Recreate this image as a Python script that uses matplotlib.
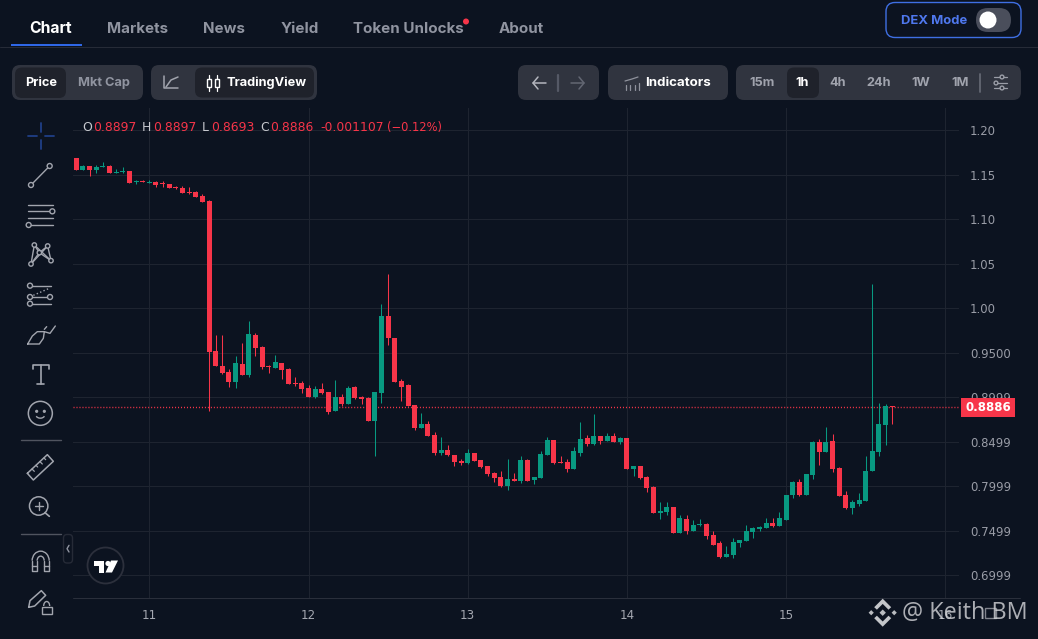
import matplotlib
matplotlib.use("Agg")
import matplotlib.pyplot as plt
from matplotlib.patches import FancyBboxPatch, Circle, Polygon, Rectangle, Arc

# ---------- data (hourly candles) ----------
first_hour_offset = -11   # first candle is 11 hours before day 11 00:00
opens = [1.1691,1.1556,1.1601,1.1556,1.1590,1.1601,1.1522,1.1533,1.1545,1.1421,1.1432,1.1413,1.1421,1.1410,1.1398,1.1365,1.1353,1.1308,1.1308,1.1263,1.1207,
         .9520,.9351,.9283,.9171,.9373,.9250,.9700,.9565,.9347,.9328,.9385,.9317,.9160,.9160,.9103,
         .9002,.9092,.9058,.8844,.9002,.8923,.9114,.9002,.8990,.8732,.9047,.9913,.9665,.9182,.9137,.8912,.8653,.8698,.8574,.8372,.8405,.8349,.8282,.8259,.8372,.8293,.8225,.8147,.8102,.8000,.8079,.8057,.8293,.8068,.8090,
         .8349,.8518,.8270,.8270,.8192,.8372,.8540,.8473,.8563,.8507,.8563,.8495,.8540,.8192,.8225,.8102,.7989,.7697,.7708,.7764,.7472,.7629,.7494,.7562,.7573,.7449,.7359,.7202,.7224,.7359,.7382,.7483,.7517,.7528,
         .7585,.7551,.7618,.7900,.8046,.7900,.8125,.8496,.8383,.8507,.8203,.7900,.7753,.7798,.7832,.8170,.8383,.8687,.8897]
highs = [1.1691,1.1612,1.1601,1.1612,1.1646,1.1612,1.1567,1.1590,1.1545,1.1443,1.1443,1.1443,1.1432,1.1432,1.1398,1.1376,1.1376,1.1365,1.1320,1.1286,1.1215,
         .9700,.9700,.9317,.9463,.9610,.9857,.9722,.9576,.9362,.9475,.9385,.9328,.9227,.9182,.9137,
         .9125,.9159,.9058,.9193,.9035,.9125,.9125,.9013,.9002,.9058,1.0048,1.0385,.9665,.9204,.9148,.8912,.8822,.8732,.8608,.8552,.8462,.8349,.8304,.8417,.8372,.8293,.8225,.8158,.8169,.8304,.8147,.8338,.8304,.8102,.8394,
         .8552,.8518,.8338,.8304,.8439,.8720,.8574,.8810,.8563,.8597,.8597,.8552,.8540,.8225,.8225,.8113,.8000,.7820,.7820,.7764,.7674,.7674,.7618,.7629,.7584,.7494,.7382,.7325,.7415,.7393,.7562,.7539,.7550,.7640,
         .7641,.7708,.7900,.8057,.8080,.8136,.8507,.8530,.8665,.8586,.8215,.7945,.7843,.7922,.8338,1.0273,.8935,.8923,.8897]
lows = [1.1556,1.1556,1.1488,1.1522,1.1590,1.1522,1.1522,1.1522,1.1410,1.1398,1.1421,1.1413,1.1365,1.1365,1.1353,1.1342,1.1297,1.1286,1.1252,1.1196,.8845,
        .9351,.9261,.9115,.9103,.9250,.9227,.9463,.9317,.9272,.9328,.9205,.9148,.9126,.9047,.9002,
        .8990,.9035,.8810,.8844,.8900,.8923,.8979,.8923,.8732,.8338,.8934,.9587,.9170,.8957,.8900,.8630,.8653,.8563,.8349,.8349,.8338,.8225,.8237,.8248,.8282,.8203,.8113,.8045,.7989,.7955,.8057,.8034,.8057,.8023,.8090,
        .8349,.8248,.8259,.8158,.8192,.8338,.8450,.8462,.8473,.8507,.8495,.8473,.8192,.8113,.8079,.7933,.7697,.7629,.7674,.7472,.7472,.7460,.7494,.7550,.7404,.7337,.7190,.7202,.7190,.7314,.7382,.7415,.7494,.7528,
        .7540,.7551,.7618,.7866,.7888,.7900,.8080,.8237,.8383,.8158,.7888,.7742,.7686,.7776,.7832,.8170,.8338,.8462,.8693]
closes = [1.1556,1.1601,1.1556,1.1590,1.1601,1.1522,1.1533,1.1545,1.1410,1.1432,1.1421,1.1425,1.1387,1.1402,1.1353,1.1353,1.1297,1.1297,1.1252,1.1196,.9508,
          .9351,.9272,.9171,.9385,.9250,.9711,.9553,.9340,.9336,.9396,.9306,.9148,.9148,.9092,.9002,
          .9092,.9047,.8833,.9002,.8923,.9103,.8990,.8979,.8732,.9058,.9913,.9665,.9170,.9114,.8900,.8653,.8698,.8563,.8372,.8405,.8349,.8270,.8259,.8372,.8282,.8214,.8135,.8090,.8000,.8079,.8057,.8293,.8057,.8102,.8360,
          .8518,.8259,.8259,.8192,.8394,.8529,.8473,.8563,.8507,.8563,.8495,.8540,.8192,.8225,.8090,.7978,.7697,.7719,.7764,.7472,.7640,.7494,.7562,.7573,.7438,.7337,.7202,.7235,.7370,.7393,.7494,.7528,.7539,.7584,
          .7551,.7641,.7900,.8046,.7900,.8136,.8496,.8383,.8496,.8192,.7888,.7753,.7821,.7843,.8170,.8395,.8698,.8901,.8886]
last_price = 0.8886
price_ticks = [1.20, 1.15, 1.10, 1.05, 1.00, 0.95, 0.8999, 0.8499, 0.7999, 0.7499, 0.6999]
price_labels = ["1.20", "1.15", "1.10", "1.05", "1.00", "0.9500", "0.8999", "0.8499", "0.7999", "0.7499", "0.6999"]
day_ticks = [11, 12, 13, 14, 15, 16]

# ---------- style ----------
BG = "#0c1320"; GRID = "#1e2430"; RED = "#f73549"; GREEN = "#089981"
LABEL = "#9094a0"; ICON = "#a2a5ae"; PILL = "#30343f"; ACTIVE = "#1f222b"
W, H = 1038, 639
MONO = "DejaVu Sans"; UI = "Inter"

fig = plt.figure(figsize=(W / 100, H / 100), dpi=100, facecolor=BG)

# chart pane (pixel box 73..959 x 108..598)
ax = fig.add_axes([73 / W, 1 - 598 / H, (959 - 73) / W, (598 - 108) / H], facecolor=BG)
ax.set_xlim(10.5207, 16.086)
ax.set_ylim(0.6741, 1.2253)
for s in ax.spines.values():
    s.set_visible(False)
ax.yaxis.tick_right()
ax.set_yticks(price_ticks, price_labels)
ax.set_xticks(day_ticks, [str(d) for d in day_ticks])
ax.tick_params(axis="y", length=0, pad=8, labelcolor="#9a9da7", labelsize=8.4)
ax.tick_params(axis="x", length=0, pad=7.6, labelcolor="#a4a7b0", labelsize=8.6)
for t in ax.get_yticklabels() + ax.get_xticklabels():
    t.set_fontfamily(MONO)
ax.grid(True, color=GRID, lw=0.72)
ax.set_axisbelow(True)

times = [11 + (i + first_hour_offset) / 24 for i in range(len(opens))]
colors = [GREEN if c >= o else RED for o, c in zip(opens, closes)]
wicks = ax.vlines(times, lows, highs, colors=colors, lw=0.75, zorder=3)
wicks.set_snap(True)
ax.bar(times, [abs(c - o) for o, c in zip(opens, closes)], bottom=[min(o, c) for o, c in zip(opens, closes)],
       width=5 / 159.2, color=colors, lw=0, zorder=4)
ax.axhline(last_price, color=RED, lw=1.0, ls=(0, (0.75, 1.4)), zorder=2)

# overlay in pixel coordinates
ui = fig.add_axes([0, 0, 1, 1], facecolor="none", zorder=5)
ui.set_xlim(0, W); ui.set_ylim(H, 0); ui.axis("off")

def rbox(x0, y0, x1, y1, r=8, fc=PILL, ec="none", lw=1, z=1):
    ui.add_patch(FancyBboxPatch((x0 + r, y0 + r), x1 - x0 - 2 * r, y1 - y0 - 2 * r,
                                boxstyle=f"round,pad={r},rounding_size={r}", fc=fc, ec=ec, lw=lw, zorder=z))

def txt(x, y, s, color="#ffffff", size=10, weight="normal", ha="center", family=UI, z=4, alpha=None):
    return ui.text(x, y, s, color=color, fontsize=size, fontweight=weight, ha=ha, va="center",
                   family=family, zorder=z, alpha=alpha)

def line(xs, ys, color=ICON, lw=1.0, z=3, **kw):
    ui.plot(xs, ys, color=color, lw=lw, zorder=z, solid_capstyle="round", **kw)

def dot(x, y, r=2.6, ec=ICON, fc=BG, lw=1.0, z=3):
    ui.add_patch(Circle((x, y), r, fc=fc, ec=ec, lw=lw, zorder=z))

# top nav
line([0, W], [46.5, 46.5], color="#262b37", lw=0.72)
ui.add_patch(Rectangle((11, 44), 71, 2.2, fc="#2f67e6", ec="none", zorder=3))
nav = [("Chart", 51, "#ffffff", 11.3), ("Markets", 137.5, LABEL, 10.9), ("News", 224, LABEL, 10.9), ("Yield", 299.5, LABEL, 10.9),
       ("Token Unlocks", 408, LABEL, 10.9), ("About", 521.5, LABEL, 10.9)]
for s, x, c, sz in nav:
    txt(x, 28.6, s, color=c, size=sz, weight="bold")
dot(466, 21.5, r=3, ec="none", fc=RED)
rbox(886, 2.5, 1021, 37.5, r=9, fc=BG, ec="#3f6fe3", lw=1.0)
txt(934, 20.8, "DEX Mode", color="#4f78ee", size=9.4, weight="bold")
rbox(976, 8, 1011, 32, r=12, fc="#4a4e5b")
dot(988, 20, r=8.5, ec="none", fc="#ffffff")

# controls row
rbox(12, 65, 143, 100); rbox(15, 67.5, 66, 98, r=7, fc=ACTIVE, z=2)
txt(41, 83, "Price", size=9.2, weight="bold")
txt(104, 83, "Mkt Cap", color=LABEL, size=9.2, weight="bold")
rbox(151, 65, 317, 100); rbox(195, 67.5, 314, 97.5, r=7, fc=ACTIVE, z=2)
line([164, 164, 178], [76, 88, 88], lw=1.1)
line([166, 171, 178], [87, 80, 77], lw=1.1)
for x, y0, y1 in [(209, 75, 91), (217, 75, 91)]:
    line([x, x], [y0, y1], color="#ffffff", lw=0.9)
    ui.add_patch(Rectangle((x - 2, 79), 4, 8, fc=ACTIVE, ec="#ffffff", lw=1, zorder=4))
txt(266.5, 83, "TradingView", size=9.2, weight="bold")
rbox(518, 65, 599, 100)
line([533, 546], [83, 83], color="#b4b6be", lw=1.1); line([538, 533, 538], [77, 83, 89], color="#b4b6be", lw=1.1)
line([558, 558], [75, 91], color="#555966", lw=1.6)
line([571, 584], [83, 83], color="#636773", lw=1.1); line([579, 584, 579], [77, 83, 89], color="#636773", lw=1.1)
rbox(608, 65, 728, 100)
for x, t in [(625.5, 85), (630, 85), (634.5, 85), (639, 83)]:
    line([x, x], [90, t], color="#8f929c", lw=0.9)
line([625, 632, 638], [81, 79, 77], color="#8f929c", lw=0.9)
txt(677.5, 83, "Indicators", size=9.6, weight="bold")
rbox(736, 65, 1021, 100); rbox(787, 67.5, 819, 98, r=7, fc=ACTIVE, z=2)
for s, x, c in [("15m", 762, "#a0a3ad"), ("1h", 802.5, "#ffffff"), ("4h", 838, "#a0a3ad"), ("24h", 879, "#a0a3ad"),
                ("1W", 921, "#a0a3ad"), ("1M", 960, "#a0a3ad")]:
    txt(x, 83, s, color=c, size=9.2, weight="bold")
line([980, 980], [74, 92], color="#636773", lw=1.3)
for y, cx in [(77, 1002), (83, 996), (88, 1002)]:
    line([994, 1007], [y, y], color="#9a9da7", lw=0.9)
    dot(cx, y, r=1.9, ec="#9a9da7", fc=PILL)

# ohlc legend
leg = [(82, "O", "#c7c9cf", 8.9), (93, "0.8897", RED, 8.9), (142, "H", "#c7c9cf", 8.9), (153, "0.8897", RED, 8.9),
       (202, "L", "#c7c9cf", 8.9), (211, "0.8693", RED, 8.9), (260, "C", "#c7c9cf", 8.9), (270, "0.8886", RED, 8.9),
       (320, "-0.001107", RED, 8.9), (387.5, "(\u22120.12%)", RED, 8.3)]
for x, s, c, sz in leg:
    txt(x, 127.5, s, color=c, size=sz, ha="left", family=MONO)

# price tag
ui.add_patch(Rectangle((961, 398), 54, 18.5, fc=RED, ec="none", zorder=3))
txt(988, 407.5, "0.8886", size=8.5, weight="bold", family=MONO)

# bottom axis line
line([73, 1020], [598, 598], color="#2a2f3b", lw=0.72)

# toolbar: Z maps zoomed coordinates to pixels
def Z(zx, zy):
    return zx / 3, 120 + zy / 3
def zline(pts, color=ICON, lw=1.0, **kw):
    xs, ys = zip(*[Z(*p) for p in pts])
    line(xs, ys, color=color, lw=lw, **kw)
def zdot(zx, zy, r=2.5, **kw):
    x, y = Z(zx, zy); dot(x, y, r=r, **kw)

CR = "#1f3f86"
zline([(84, 47), (110, 47)], CR, 1.3); zline([(135, 47), (161, 47)], CR, 1.3)
zline([(123, 10), (123, 35)], CR, 1.3); zline([(123, 60), (123, 86)], CR, 1.3)
zline([(93, 195), (149, 138)]); zdot(93, 195); zdot(149, 138)
for y in (255, 295):
    zline([(85, y), (158, y)])
zline([(85, 274), (152, 274)]); zdot(157, 274)
zline([(90, 315), (158, 315)]); zdot(86, 315)
pts = [(93, 432), (103, 375), (118, 398), (143, 378), (153, 422), (118, 398), (93, 432)]
zline(pts); zline([(103, 375), (153, 422)]); zline([(143, 378), (93, 432)])
for p in [(93, 432), (103, 375), (118, 398), (143, 378), (153, 422)]:
    zdot(*p, r=2.2)
zline([(96, 497), (154, 497)]); zdot(90, 497)
zline([(96, 531), (144, 531)]); zdot(90, 531); zdot(150, 531)
zline([(96, 551), (154, 551)]); zdot(90, 551)
ui.plot(*zip(Z(100, 526), Z(150, 504)), color=ICON, lw=1, ls=":", zorder=3)
zline([(83, 672), (118, 672), (130, 655), (133, 635), (112, 635), (97, 648), (83, 672)])
zline([(133, 635), (150, 640), (166, 618)])
zline([(133, 628), (140, 620)])
zline([(122, 735), (122, 793)], lw=1.2); zline([(98, 748), (98, 735), (148, 735), (148, 748)], lw=1.2); zline([(112, 793), (132, 793)], lw=1.2)
zdot(121, 880, r=12, lw=1.1)
zdot(110, 874, r=0.9, fc=ICON); zdot(133, 874, r=0.9, fc=ICON)
x, y = Z(121, 884); ui.add_patch(Arc((x, y), 9, 7, theta1=20, theta2=160, ec=ICON, lw=1, zorder=3))
zline([(63, 961), (183, 961)], "#50545f", 1)
zline([(82, 1060), (142, 1004), (160, 1024), (100, 1080), (82, 1060)], lw=1.1)
for a, b, c, d in [(96, 1047, 103, 1054), (108, 1036, 113, 1041), (120, 1025, 127, 1032), (132, 1014, 137, 1019)]:
    zline([(a, b), (c, d)], lw=0.9)
zdot(116, 1158, r=9.2, lw=1.1)
zline([(116, 1146), (116, 1170)]); zline([(104, 1158), (128, 1158)]); zline([(135, 1178), (148, 1189)], lw=1.2)
zline([(63, 1243), (183, 1243)], "#50545f", 1)
rbox(63.5, 534.5, 72.5, 563, r=3.5, fc=BG, ec="#262b37", lw=1)
zline([(207, 1276), (201, 1286), (207, 1296)], "#9094a0", 1)
x, y = Z(122, 1322); ui.add_patch(Arc((x, y), 17, 19, theta1=180, theta2=360, ec=ICON, lw=1, zorder=3))
x, y = Z(122, 1322); ui.add_patch(Arc((x, y), 7, 9, theta1=180, theta2=360, ec=ICON, lw=1, zorder=3))
zline([(95, 1322), (95, 1353), (112, 1353), (112, 1322)]); zline([(131, 1322), (131, 1353), (148, 1353), (148, 1322)])
zline([(95, 1338), (112, 1338)]); zline([(131, 1338), (148, 1338)])
zline([(86, 1462), (90, 1442), (124, 1412), (137, 1426), (104, 1458), (86, 1462)], lw=1.1)
ui.add_patch(Rectangle(Z(125, 1460), 10, 7.5, fc=BG, ec=ICON, lw=1, zorder=3))
x, y = Z(140, 1458); ui.add_patch(Arc((x, y), 6, 9, theta1=180, theta2=360, ec=ICON, lw=1, zorder=3))

# TradingView badge
dot(105.5, 565.5, r=18, ec="#2c303c", fc=BG, lw=1.3)
ui.add_patch(Polygon([(94, 560.5), (104, 560.5), (104, 572.5), (99, 572.5), (99, 566), (94, 566)], fc="white", ec="none", zorder=4))
dot(108, 563.5, r=2.6, ec="none", fc="white", z=4)
ui.add_patch(Polygon([(111, 560.5), (118, 560.5), (112, 572.5), (105.5, 572.5)], fc="white", ec="none", zorder=4))

# watermark
c = "#c4c6ca"
cx, cy = 882.7, 612.7
def diamond(px, py, r):
    ui.add_patch(Polygon([(px - r, py), (px, py - r), (px + r, py), (px, py + r)], fc=c, ec="none", zorder=6, alpha=0.95))
diamond(cx, cy, 3.2); diamond(cx - 11.5, cy, 2.6); diamond(cx + 11.5, cy, 2.6)
ui.add_patch(Polygon([(cx, cy - 14), (cx + 8.5, cy - 5.5), (cx + 5.8, cy - 3), (cx, cy - 8.8), (cx - 5.8, cy - 3), (cx - 8.5, cy - 5.5)], fc=c, ec="none", zorder=6))
ui.add_patch(Polygon([(cx, cy + 14), (cx + 8.5, cy + 5.5), (cx + 5.8, cy + 3), (cx, cy + 8.8), (cx - 5.8, cy + 3), (cx - 8.5, cy + 5.5)], fc=c, ec="none", zorder=6))
ui.add_patch(Rectangle((985, 608), 11, 10, fc="none", ec="#80838c", lw=1, zorder=3))
txt(902.5, 613, "@ Keith BM", color="#d5d6da", size=16.9, ha="left", family="Open Sans", z=6, alpha=0.8)

fig.savefig("out.png", dpi=100, facecolor=BG)
